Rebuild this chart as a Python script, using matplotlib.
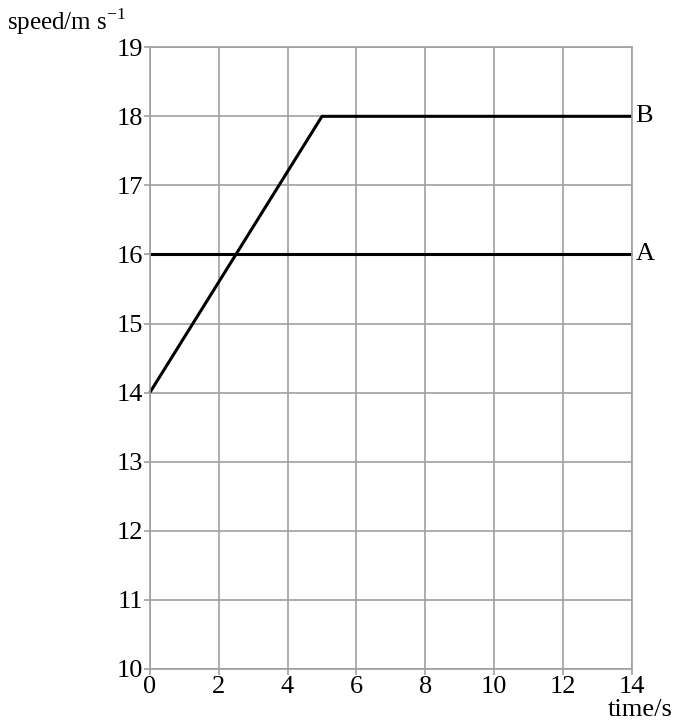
import numpy as np
import matplotlib
matplotlib.use("Agg")
import matplotlib.pyplot as plt

plt.rcParams["font.family"] = ["Liberation Serif", "DejaVu Serif"]

# data
time_A = [0, 14]
speed_A = [16, 16]
time_B = [0, 5, 14]
speed_B = [14, 18, 18]
x_ticks = [0, 2, 4, 6, 8, 10, 12, 14]
y_ticks = [10, 11, 12, 13, 14, 15, 16, 17, 18, 19]

fig = plt.figure(figsize=(6.75, 7.27), dpi=100)
ax = fig.add_axes([0.222, 0.080, 0.714, 0.855])

grid_c = "#a0a0a0"
ax.set_xlim(0, 14)
ax.set_ylim(10, 19)
ax.set_xticks(x_ticks)
ax.set_yticks(y_ticks)
ax.grid(True, color=grid_c, lw=1.2)
ax.set_axisbelow(True)
for s in ax.spines.values():
    s.set_color(grid_c)
    s.set_linewidth(1.2)
ax.tick_params(colors=grid_c, labelcolor="black", labelsize=19, length=4, width=1.2, pad=1)

ax.plot(time_A, speed_A, color="black", lw=2.2, solid_capstyle="butt", clip_on=False)
ax.plot(time_B, speed_B, color="black", lw=2.2, solid_capstyle="butt", clip_on=False)

ax.text(14.1, speed_A[-1], "A", fontsize=19, va="center", ha="left")
ax.text(14.1, speed_B[-1], "B", fontsize=19, va="center", ha="left")

fig.text(0.010, 0.970, "speed/m s$^{\\mathregular{-1}}$", fontsize=18, ha="left", va="center")
fig.text(0.997, 0.023, "time/s", fontsize=19, ha="right", va="center")

fig.savefig("out.png", dpi=100)
